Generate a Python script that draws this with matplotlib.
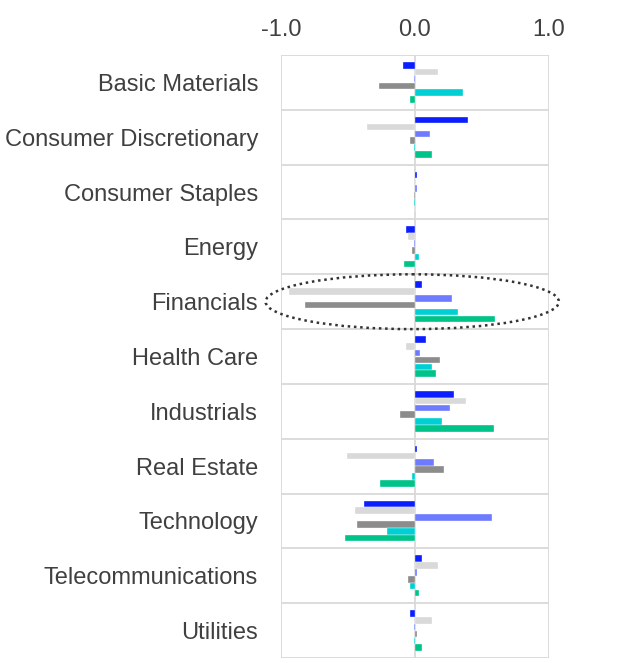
import numpy as np
import matplotlib.pyplot as plt
from matplotlib.patches import Ellipse

plt.rcParams['font.family'] = ['Liberation Sans', 'DejaVu Sans']

#%% Data

sectors = ['Basic Materials', 'Consumer Discretionary', 'Consumer Staples', 'Energy',
           'Financials', 'Health Care', 'Industrials', 'Real Estate', 'Technology',
           'Telecommunications', 'Utilities']

s1 = [-0.09, 0.40, 0.015, -0.067, 0.05, 0.08, 0.29, 0.015, -0.38, 0.055, -0.035]
s2 = [0.17, -0.36, 0.005, -0.05, -0.94, -0.065, 0.38, -0.51, -0.45, 0.17, 0.13]
s3 = [-0.01, 0.11, 0.012, -0.01, 0.28, 0.035, 0.26, 0.14, 0.575, 0.015, -0.005]
s4 = [-0.27, -0.035, -0.005, -0.02, -0.82, 0.19, -0.11, 0.22, -0.435, -0.05, 0.015]
s5 = [0.36, -0.005, -0.005, 0.03, 0.32, 0.13, 0.20, -0.02, -0.21, -0.035, -0.005]
s6 = [-0.035, 0.13, 0.003, -0.08, 0.60, 0.16, 0.59, -0.26, -0.525, 0.03, 0.05]

series = [s1, s2, s3, s4, s5, s6]
colors = ['#0A1EFF', '#D9D9D9', '#6E7BFF', '#8C8C8C', '#00D0D4', '#00C389']

#%% Plot

fig = plt.figure(figsize=(6.23, 6.63), dpi=100)
ax = fig.add_axes([0.451, 0.0075, 0.43, 0.9095])

y = np.arange(len(sectors))
step = 0.125
for k, (vals, c) in enumerate(zip(series, colors)):
    ax.barh(y + (k - 2.5) * step, vals, height=0.12, color=c,
            edgecolor='white', linewidth=0.25, zorder=3)

# grid: category separators and verticals at -1, 0, 1
grid_c = '#D9D9D9'
for b in np.arange(len(sectors) + 1) - 0.5:
    ax.axhline(b, color=grid_c, lw=1.3, zorder=1)
for xv in [-1, 0, 1]:
    ax.axvline(xv, color=grid_c, lw=1.3, zorder=1)

ax.set_xlim(-1, 1)
ax.set_ylim(len(sectors) - 0.5, -0.5)
ax.set_yticks(y)
ax.set_yticklabels(sectors)
ax.set_xticks([-1, 0, 1])
ax.set_xticklabels(['-1.0', '0.0', '1.0'])
ax.xaxis.tick_top()
ax.tick_params(axis='y', length=0, pad=16.5, labelsize=17, labelcolor='#404040')
ax.tick_params(axis='x', length=0, pad=10, labelsize=17, labelcolor='#404040')
for sp in ax.spines.values():
    sp.set_visible(False)

# highlight Financials
ell = Ellipse((-0.02, 4), width=2.19, height=1.0, fill=False,
              linestyle=(0, (1, 1.5)), lw=1.8, edgecolor='#333333',
              clip_on=False, zorder=5)
ax.add_patch(ell)

fig.savefig('out.png', dpi=100)
